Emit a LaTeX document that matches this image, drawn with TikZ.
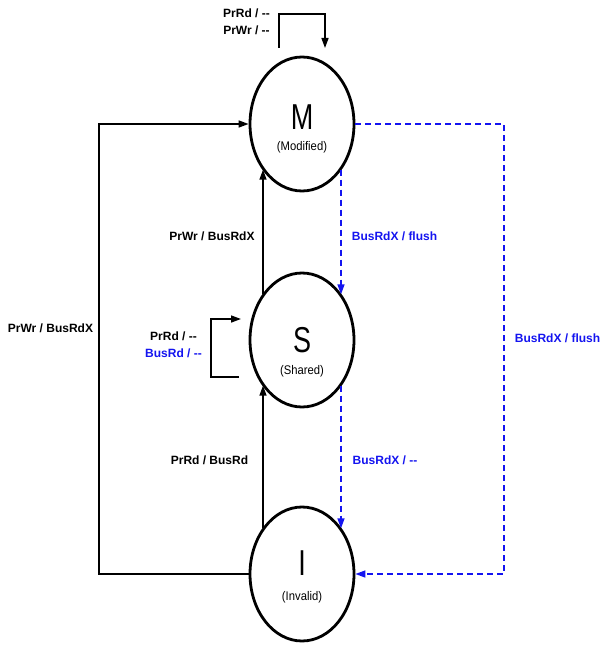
\documentclass[tikz,border=0pt]{standalone}
\usepackage{fontspec}
\setmainfont{Liberation Sans}
\usetikzlibrary{arrows.meta,calc,shapes.geometric}
\definecolor{busblue}{RGB}{20,20,240}
\begin{document}
\begin{tikzpicture}[x=1pt,y=-1pt,
  state/.style={ellipse, draw, line width=2.8pt, minimum width=104pt, minimum height=134pt, inner sep=0pt},
  letter/.style={font=\fontsize{36}{36}\selectfont, inner sep=0pt},
  sub/.style={font=\fontsize{12.5}{14}\selectfont, inner sep=0pt},
  lbl/.style={font=\bfseries\fontsize{12}{17}\selectfont, inner sep=0pt, align=center},
  blbl/.style={lbl, text=busblue},
  conn/.style={line width=1.5pt, -{Triangle[length=10pt,width=7pt]}},
  bconn/.style={conn, busblue, dash pattern=on 6pt off 4pt}]
\useasboundingbox[fill=white] (0,0) rectangle (606,647);

% states
\node[state] (M) at (302,124) {};
\node[state] (S) at (302,340) {};
\node[state] (I) at (302,574) {};
\node[letter] (Ml) at (302,117) {\scalebox{0.75}[1]{M}};
\node[sub] (Ms) at (302,147) {\scalebox{0.9}[1]{(Modified)}};
\node[letter] (Sl) at (302,340) {\scalebox{0.75}[1]{S}};
\node[sub] (Ss) at (302,371) {\scalebox{0.9}[1]{(Shared)}};
\node[letter] (Il) at (302,563) {\scalebox{0.75}[1]{I}};
\node[sub] (Is) at (302,597) {\scalebox{0.9}[1]{(Invalid)}};

% helper coordinates
\coordinate (mloopA) at (279,48);
\coordinate (mloopT) at (302,14);
\coordinate (mloopB) at (325,48);
\coordinate (sloopB) at (239,377);
\coordinate (sloopL) at (211,350);
\coordinate (sloopT) at (241,319);
\coordinate (leftX) at (99,350);
\coordinate (rightX) at (504,350);
\coordinate (vl) at (263,0);
\coordinate (vr) at (341,0);

% M self loop
\draw[conn] (mloopA) |- (mloopT) -| (mloopB);
% S self loop
\draw[conn] (sloopB) -| (sloopL) |- (sloopT);
% I -> S, S -> M
\draw[conn] (I.131 -| vl) -- (S.229 -| vl);
\draw[conn] (S.131 -| vl) -- (M.229 -| vl);
% I -> M big left loop
\draw[conn] (I.west) -| (leftX) |- (M.west);
% blue dashed
\draw[bconn] (M.311 -| vr) -- (S.49 -| vr);
\draw[bconn] (S.311 -| vr) -- (I.49 -| vr);
\draw[bconn] (M.east) -| (rightX) |- (I.east);

% labels
\node[lbl] (lm) at (246.5,22) {PrRd / -{}-\\PrWr / -{}-};
\node[lbl] (ls1) at (173.5,336) {PrRd / -{}-};
\node[blbl] (ls2) at (173.5,353) {BusRd / -{}-};
\node[lbl] (lsm) at (212,236) {PrWr / BusRdX};
\node[lbl] (lis) at (209.5,460) {PrRd / BusRd};
\node[lbl] (lim) at (50.5,328) {PrWr / BusRdX};
\node[blbl] (lms) at (394.5,236) {BusRdX / flush};
\node[blbl] (lsi) at (385,460) {BusRdX / -{}-};
\node[blbl] (lmi) at (557.5,338) {BusRdX / flush};
\end{tikzpicture}
\end{document}
